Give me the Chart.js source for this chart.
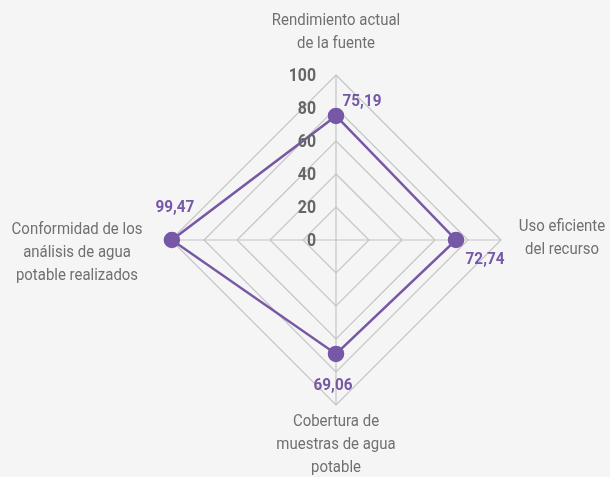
<!DOCTYPE html>
<html>
<head>
<meta charset="utf-8">
<script src="https://cdn.jsdelivr.net/npm/chart.js@4.4.1/dist/chart.umd.min.js"></script>
<style>
  html, body { margin: 0; padding: 0; background: #f5f5f5; }
  #wrap { width: 610px; height: 477px; position: relative; }
</style>
</head>
<body>
<div id="wrap"><canvas id="radar"></canvas></div>
<script>
const FONT = "'Roboto', 'Liberation Sans', sans-serif";
const PURPLE = '#7658a6';
const GRAY_TEXT = '#707070';

// data
const categories = [
    ['Rendimiento actual', 'de la fuente'],
    ['Uso eficiente', 'del recurso'],
    ['Cobertura de', 'muestras de agua', 'potable'],
    ['Conformidad de los', 'análisis de agua', 'potable realizados']
];
const values = [75.19, 72.74, 69.06, 99.47];
const valueLabels = ['75,19', '72,74', '69,06', '99,47'];
const tickValues = [0, 20, 40, 60, 80, 100];

// where each value label sits relative to its point
const valueOffsets = [[26, -14], [29, 20], [-3, 32], [3, -32]];
// where the first line of each category label sits relative to the 100 point
const catOffsets = [[0, -54], [61, -13], [0, 17], [-94, -10]];

// narrow text, the reference uses a condensed face
function narrowText(ctx, text, x, y, squeeze) {
    ctx.save();
    ctx.translate(x, y);
    ctx.scale(squeeze, 1);
    ctx.fillText(text, 0, 0);
    ctx.restore();
}

const overlayPlugin = {
    id: 'overlay',
    afterDatasetsDraw(chart) {
        const ctx = chart.ctx;
        const scale = chart.scales.r;
        const meta = chart.getDatasetMeta(0);

        ctx.save();
        ctx.textBaseline = 'middle';

        // tick labels left of the top axis
        ctx.font = 'bold 18px ' + FONT;
        ctx.fillStyle = '#666666';
        ctx.textAlign = 'right';
        tickValues.forEach(function(v) {
            const y = scale.yCenter - scale.getDistanceFromCenterForValue(v);
            narrowText(ctx, String(v), scale.xCenter - 20, y + 1, 0.88);
        });

        // value labels
        ctx.font = 'bold 17px ' + FONT;
        ctx.fillStyle = PURPLE;
        ctx.textAlign = 'center';
        meta.data.forEach(function(pt, i) {
            narrowText(ctx, valueLabels[i], pt.x + valueOffsets[i][0], pt.y + valueOffsets[i][1], 0.9);
        });

        // category labels
        ctx.font = '17px ' + FONT;
        ctx.fillStyle = GRAY_TEXT;
        categories.forEach(function(lines, i) {
            const p = scale.getPointPositionForValue(i, 100);
            const cx = p.x + catOffsets[i][0];
            const cy = p.y + catOffsets[i][1];
            lines.forEach(function(line, k) {
                narrowText(ctx, line, cx, cy + k * 23, 0.88);
            });
        });
        ctx.restore();
    }
};

new Chart(document.getElementById('radar'), {
    type: 'radar',
    data: {
        labels: categories,
        datasets: [{
            data: values,
            borderColor: PURPLE,
            backgroundColor: PURPLE,
            borderWidth: 2.5,
            fill: false,
            pointRadius: 7,
            pointBackgroundColor: PURPLE,
            pointBorderColor: PURPLE,
            pointHoverRadius: 7
        }]
    },
    options: {
        responsive: true,
        maintainAspectRatio: false,
        animation: false,
        layout: { padding: { left: 100, right: 38, top: 75, bottom: 72 } },
        plugins: {
            legend: { display: false },
            tooltip: { enabled: false }
        },
        scales: {
            r: {
                min: 0,
                max: 100,
                ticks: { display: false, stepSize: 20 },
                pointLabels: { display: false },
                grid: { color: '#c4c4c4', lineWidth: 1.2 },
                angleLines: { color: '#c4c4c4', lineWidth: 1.2 }
            }
        }
    },
    plugins: [overlayPlugin]
});
</script>
</body>
</html>
